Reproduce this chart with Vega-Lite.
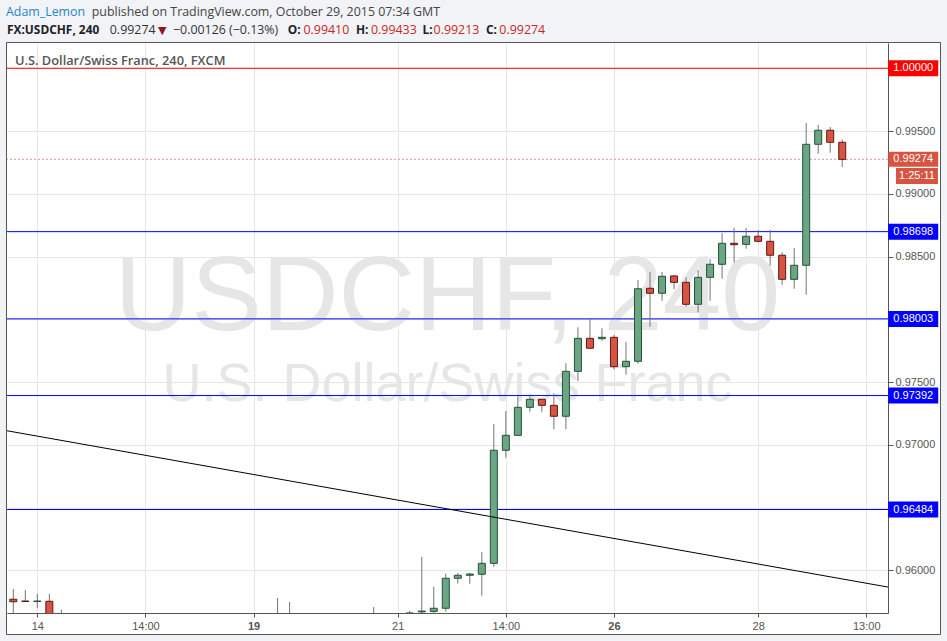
{
  "$schema": "https://vega.github.io/schema/vega-lite/v6.json",
  "width": 881,
  "height": 570,
  "autosize": {"type": "none"},
  "padding": {"left": 7, "top": 43, "right": 59, "bottom": 28},
  "background": "#ffffff",
  "config": {
    "view": {"stroke": null},
    "axis": {"labelFont": "Liberation Sans", "labelFontSize": 11, "labelColor": "#555555", "tickColor": "#555555", "domainColor": "#555555", "gridColor": "#e6e6e6", "gridWidth": 1, "labelOverlap": false, "labelFlush": false}
  },
  "datasets": {
    "candles": [
      {"n": 0, "o": 0.95769, "h": 0.95851, "l": 0.95660, "c": 0.95749},
      {"n": 1, "o": 0.95755, "h": 0.95843, "l": 0.95749, "c": 0.95751},
      {"n": 2, "o": 0.95751, "h": 0.95811, "l": 0.95699, "c": 0.95755},
      {"n": 3, "o": 0.95753, "h": 0.95811, "l": 0.95550, "c": 0.95600},
      {"n": 4, "o": 0.95600, "h": 0.95686, "l": 0.95500, "c": 0.95550},
      {"n": 22, "o": 0.95450, "h": 0.95779, "l": 0.95400, "c": 0.95480},
      {"n": 23, "o": 0.95480, "h": 0.95747, "l": 0.95400, "c": 0.95460},
      {"n": 30, "o": 0.95500, "h": 0.95707, "l": 0.95450, "c": 0.95520},
      {"n": 33, "o": 0.95600, "h": 0.95678, "l": 0.95550, "c": 0.95660},
      {"n": 34, "o": 0.95668, "h": 0.96106, "l": 0.95620, "c": 0.95675},
      {"n": 35, "o": 0.95672, "h": 0.95869, "l": 0.95660, "c": 0.95697},
      {"n": 36, "o": 0.95697, "h": 0.95973, "l": 0.95670, "c": 0.95936},
      {"n": 37, "o": 0.95936, "h": 0.95978, "l": 0.95893, "c": 0.95960},
      {"n": 38, "o": 0.95960, "h": 0.95978, "l": 0.95893, "c": 0.95970},
      {"n": 39, "o": 0.95968, "h": 0.96145, "l": 0.95797, "c": 0.96055},
      {"n": 40, "o": 0.96055, "h": 0.97165, "l": 0.96028, "c": 0.96956},
      {"n": 41, "o": 0.96956, "h": 0.97269, "l": 0.96897, "c": 0.97075},
      {"n": 42, "o": 0.97075, "h": 0.97383, "l": 0.97070, "c": 0.97298},
      {"n": 43, "o": 0.97298, "h": 0.97383, "l": 0.97263, "c": 0.97362},
      {"n": 44, "o": 0.97362, "h": 0.97365, "l": 0.97259, "c": 0.97314},
      {"n": 45, "o": 0.97314, "h": 0.97410, "l": 0.97123, "c": 0.97227},
      {"n": 46, "o": 0.97227, "h": 0.97649, "l": 0.97123, "c": 0.97585},
      {"n": 47, "o": 0.97585, "h": 0.97936, "l": 0.97508, "c": 0.97848},
      {"n": 48, "o": 0.97848, "h": 0.98008, "l": 0.97765, "c": 0.97769},
      {"n": 49, "o": 0.97845, "h": 0.97928, "l": 0.97829, "c": 0.97856},
      {"n": 50, "o": 0.97856, "h": 0.97875, "l": 0.97601, "c": 0.97622},
      {"n": 51, "o": 0.97622, "h": 0.97819, "l": 0.97558, "c": 0.97665},
      {"n": 52, "o": 0.97665, "h": 0.98313, "l": 0.97646, "c": 0.98243},
      {"n": 53, "o": 0.98247, "h": 0.98376, "l": 0.97941, "c": 0.98207},
      {"n": 54, "o": 0.98207, "h": 0.98376, "l": 0.98148, "c": 0.98342},
      {"n": 55, "o": 0.98345, "h": 0.98355, "l": 0.98239, "c": 0.98294},
      {"n": 56, "o": 0.98294, "h": 0.98334, "l": 0.98100, "c": 0.98119},
      {"n": 57, "o": 0.98119, "h": 0.98392, "l": 0.98055, "c": 0.98334},
      {"n": 58, "o": 0.98334, "h": 0.98480, "l": 0.98148, "c": 0.98438},
      {"n": 59, "o": 0.98438, "h": 0.98687, "l": 0.98323, "c": 0.98605},
      {"n": 60, "o": 0.98605, "h": 0.98729, "l": 0.98451, "c": 0.98594},
      {"n": 61, "o": 0.98597, "h": 0.98727, "l": 0.98562, "c": 0.98661},
      {"n": 62, "o": 0.98661, "h": 0.98711, "l": 0.98613, "c": 0.98621},
      {"n": 63, "o": 0.98621, "h": 0.98711, "l": 0.98427, "c": 0.98510},
      {"n": 64, "o": 0.98510, "h": 0.98533, "l": 0.98275, "c": 0.98318},
      {"n": 65, "o": 0.98318, "h": 0.98568, "l": 0.98243, "c": 0.98430},
      {"n": 66, "o": 0.98430, "h": 0.99564, "l": 0.98196, "c": 0.99394},
      {"n": 67, "o": 0.99394, "h": 0.99548, "l": 0.99319, "c": 0.99506},
      {"n": 68, "o": 0.99506, "h": 0.99532, "l": 0.99327, "c": 0.99410},
      {"n": 69, "o": 0.99410, "h": 0.99433, "l": 0.99213, "c": 0.99274}
    ],
    "levels": [
      {"v": 1.0, "kind": "r"},
      {"v": 0.98698, "kind": "b"},
      {"v": 0.98003, "kind": "b"},
      {"v": 0.97392, "kind": "b"},
      {"v": 0.96484, "kind": "b"}
    ],
    "trend": [
      {"n": -0.55, "v": 0.97112},
      {"n": 72.81, "v": 0.95866}
    ]
  },
  "layer": [
    {
      "data": {"name": "candles"},
      "mark": {"type": "rule", "color": "#737375", "strokeWidth": 1, "clip": true, "opacity": 0},
      "encoding": {
        "x": {"field": "n", "type": "quantitative", "title": null,
          "scale": {"domain": [-0.524, 72.81], "zero": false, "nice": false, "padding": 0},
          "axis": {"title": null, "orient": "bottom", "values": [2, 11, 20, 32, 41, 50, 62, 71], "tickSize": 4, "labelPadding": 3, "domain": true,
            "labelExpr": "datum.value == 2 ? '14' : datum.value == 11 ? '14:00' : datum.value == 20 ? '19' : datum.value == 32 ? '21' : datum.value == 41 ? '14:00' : datum.value == 50 ? '26' : datum.value == 62 ? '28' : '13:00'",
            "labelFontWeight": {"condition": {"test": "datum.value == 20 || datum.value == 50", "value": "bold"}, "value": "normal"}}},
        "y": {"field": "l", "type": "quantitative", "title": null,
          "scale": {"domain": [0.956594, 1.002012], "zero": false, "nice": false, "padding": 0},
          "axis": {"title": null, "orient": "right", "values": [0.96, 0.965, 0.97, 0.975, 0.98, 0.985, 0.99, 0.995, 1.0], "tickSize": 5, "labelPadding": 2, "domain": true,
            "labelExpr": "abs(datum.value - 1) < 1e-7 || abs(datum.value - 0.98) < 1e-7 || abs(datum.value - 0.965) < 1e-7 ? '' : format(datum.value, '.5f')"}}
      }
    },
    {"data": {"values": [{}]}, "mark": {"type": "rect", "color": "#f1f3f6", "clip": false},
      "encoding": {"x": {"datum": -3}, "x2": {"datum": 80}, "y": {"datum": 1.002012}, "y2": {"datum": 1.0062}}},
    {"data": {"values": [{}]}, "mark": {"type": "rect", "color": "#f1f3f6", "clip": false},
      "encoding": {"x": {"datum": -3}, "x2": {"datum": -0.566}, "y": {"datum": 1.0062}, "y2": {"datum": 0.952}}},
    {"data": {"values": [{}]}, "mark": {"type": "rect", "color": "#f1f3f6", "clip": false},
      "encoding": {"x": {"datum": 77.22}, "x2": {"datum": 80}, "y": {"datum": 1.0062}, "y2": {"datum": 0.952}}},
    {"data": {"values": [{}]}, "mark": {"type": "rect", "color": "#f1f3f6", "clip": false},
      "encoding": {"x": {"datum": -3}, "x2": {"datum": 80}, "y": {"datum": 0.95488}, "y2": {"datum": 0.952}}},
    {"data": {"values": [{}]}, "mark": {"type": "rect", "filled": false, "color": "#555555", "strokeWidth": 1, "clip": false},
      "encoding": {"x": {"datum": -0.566}, "x2": {"datum": 77.18}, "y": {"datum": 1.002052}, "y2": {"datum": 0.95488}}},
    {"data": {"values": [{}]}, "mark": {"type": "text", "text": "USDCHF, 240", "font": "Liberation Sans", "fontSize": 106, "color": "#e6e6e6", "align": "center", "baseline": "alphabetic"},
      "encoding": {"x": {"datum": 36.14}, "y": {"datum": 0.979143}}},
    {"data": {"values": [{}]}, "mark": {"type": "text", "text": "U.S. Dollar/Swiss Franc", "font": "Liberation Sans", "fontSize": 54, "color": "#e6e6e6", "align": "center", "baseline": "alphabetic"},
      "encoding": {"x": {"datum": 36.14}, "y": {"datum": 0.973486}}},
    {"data": {"name": "levels"}, "mark": {"type": "rule", "strokeWidth": 1},
      "encoding": {"y": {"field": "v", "type": "quantitative", "title": null},
        "color": {"field": "kind", "type": "nominal", "scale": {"domain": ["r", "b"], "range": ["#ff0000", "#0000ff"]}, "legend": null}}},
    {"data": {"values": [{}]}, "mark": {"type": "rule", "color": "#e3998f", "strokeWidth": 1, "strokeDash": [2, 2]},
      "encoding": {"y": {"datum": 0.99274}}},
    {
      "data": {"name": "candles"},
      "mark": {"type": "rule", "color": "#737375", "strokeWidth": 1, "clip": true},
      "encoding": {
        "x": {"field": "n", "type": "quantitative", "title": null},
        "y": {"field": "l", "type": "quantitative", "title": null},
        "y2": {"field": "h"}
      }
    },
    {
      "data": {"name": "candles"},
      "mark": {"type": "bar", "width": 7, "strokeWidth": 1, "clip": true},
      "encoding": {
        "x": {"field": "n", "type": "quantitative", "title": null},
        "y": {"field": "o", "type": "quantitative", "title": null},
        "y2": {"field": "c"},
        "fill": {"condition": {"test": "datum.c >= datum.o", "value": "#6ba583"}, "value": "#d75442"},
        "stroke": {"condition": {"test": "datum.c >= datum.o", "value": "#225437"}, "value": "#5b1a13"}
      }
    },
    {"data": {"name": "trend"}, "mark": {"type": "line", "color": "#000000", "strokeWidth": 1, "clip": true},
      "encoding": {"x": {"field": "n", "type": "quantitative", "title": null}, "y": {"field": "v", "type": "quantitative", "title": null}}},
    {"data": {"name": "levels"}, "mark": {"type": "rect", "width": 50, "height": 16, "clip": false},
      "encoding": {"x": {"datum": 74.91}, "y": {"field": "v", "type": "quantitative", "title": null},
        "color": {"field": "kind", "type": "nominal", "legend": null}}},
    {"data": {"name": "levels"}, "mark": {"type": "text", "font": "Liberation Sans", "fontSize": 11, "color": "#ffffff", "align": "center", "baseline": "middle", "clip": false},
      "encoding": {"x": {"datum": 74.91}, "y": {"field": "v", "type": "quantitative", "title": null}, "text": {"field": "v", "format": ".5f"}}},
    {"data": {"values": [{}]}, "mark": {"type": "rect", "width": 50, "height": 15, "color": "#d75442", "clip": false},
      "encoding": {"x": {"datum": 74.91}, "y": {"datum": 0.99274}}},
    {"data": {"values": [{}]}, "mark": {"type": "text", "text": "0.99274", "font": "Liberation Sans", "fontSize": 11, "color": "#ffffff", "align": "center", "baseline": "middle", "clip": false},
      "encoding": {"x": {"datum": 74.91}, "y": {"datum": 0.99274}}},
    {"data": {"values": [{}]}, "mark": {"type": "rect", "width": 42, "height": 16, "color": "#d75442", "clip": false},
      "encoding": {"x": {"datum": 75.22}, "y": {"datum": 0.99141}}},
    {"data": {"values": [{}]}, "mark": {"type": "text", "text": "1:25:11", "font": "Liberation Sans", "fontSize": 11, "color": "#ffffff", "align": "center", "baseline": "middle", "clip": false},
      "encoding": {"x": {"datum": 75.22}, "y": {"datum": 0.99141}}},
    {"data": {"values": [{}]}, "mark": {"type": "text", "text": "U.S. Dollar/Swiss Franc, 240, FXCM", "font": "Open Sans", "fontSize": 12.8, "fontWeight": 600, "color": "#555555", "align": "left", "baseline": "alphabetic"},
      "encoding": {"x": {"datum": 0.1415}, "y": {"datum": 1.000259}}},
    {"data": {"values": [{}]}, "mark": {"type": "text", "text": "Adam_Lemon", "font": "Open Sans", "fontSize": 12.4, "color": "#1e88c8", "align": "left", "baseline": "alphabetic", "clip": false},
      "encoding": {"x": {"datum": -0.608}, "y": {"datum": 1.004163}}},
    {"data": {"values": [{}]}, "mark": {"type": "text", "text": "published on TradingView.com, October 29, 2015 07:34 GMT", "font": "Open Sans", "fontSize": 12.4, "color": "#444444", "align": "left", "baseline": "alphabetic", "clip": false},
      "encoding": {"x": {"datum": 6.534}, "y": {"datum": 1.004163}}},
    {"data": {"values": [{}]}, "mark": {"type": "text", "text": "FX:USDCHF, 240", "font": "Open Sans", "fontSize": 11.9, "fontWeight": "bold", "color": "#222222", "align": "left", "baseline": "alphabetic", "clip": false},
      "encoding": {"x": {"datum": -0.524}, "y": {"datum": 1.002729}}},
    {"data": {"values": [{}]}, "mark": {"type": "text", "text": "0.99274", "font": "Open Sans", "fontSize": 12.4, "color": "#333333", "align": "left", "baseline": "alphabetic", "clip": false},
      "encoding": {"x": {"datum": 8.032}, "y": {"datum": 1.002729}}},
    {"data": {"values": [{}]}, "mark": {"type": "text", "text": "▼", "font": "DejaVu Sans", "fontSize": 11, "color": "#8b1a1a", "align": "left", "baseline": "alphabetic", "clip": false},
      "encoding": {"x": {"datum": 12.044}, "y": {"datum": 1.002729}}},
    {"data": {"values": [{}]}, "mark": {"type": "text", "text": "−0.00126 (−0.13%)", "font": "Open Sans", "fontSize": 12.4, "color": "#333333", "align": "left", "baseline": "alphabetic", "clip": false},
      "encoding": {"x": {"datum": 13.293}, "y": {"datum": 1.002729}}},
    {"data": {"values": [{}]}, "mark": {"type": "text", "text": "O:", "font": "Open Sans", "fontSize": 11.9, "fontWeight": "bold", "color": "#222222", "align": "left", "baseline": "alphabetic", "clip": false},
      "encoding": {"x": {"datum": 22.849}, "y": {"datum": 1.002729}}},
    {"data": {"values": [{}]}, "mark": {"type": "text", "text": "0.99410", "font": "Open Sans", "fontSize": 12.4, "color": "#c62828", "align": "left", "baseline": "alphabetic", "clip": false},
      "encoding": {"x": {"datum": 24.155}, "y": {"datum": 1.002729}}},
    {"data": {"values": [{}]}, "mark": {"type": "text", "text": "H:", "font": "Open Sans", "fontSize": 11.9, "fontWeight": "bold", "color": "#222222", "align": "left", "baseline": "alphabetic", "clip": false},
      "encoding": {"x": {"datum": 28.525}, "y": {"datum": 1.002729}}},
    {"data": {"values": [{}]}, "mark": {"type": "text", "text": "0.99433", "font": "Open Sans", "fontSize": 12.4, "color": "#c62828", "align": "left", "baseline": "alphabetic", "clip": false},
      "encoding": {"x": {"datum": 29.774}, "y": {"datum": 1.002729}}},
    {"data": {"values": [{}]}, "mark": {"type": "text", "text": "L:", "font": "Open Sans", "fontSize": 11.9, "fontWeight": "bold", "color": "#222222", "align": "left", "baseline": "alphabetic", "clip": false},
      "encoding": {"x": {"datum": 34.06}, "y": {"datum": 1.002729}}},
    {"data": {"values": [{}]}, "mark": {"type": "text", "text": "0.99213", "font": "Open Sans", "fontSize": 12.4, "color": "#c62828", "align": "left", "baseline": "alphabetic", "clip": false},
      "encoding": {"x": {"datum": 34.985}, "y": {"datum": 1.002729}}},
    {"data": {"values": [{}]}, "mark": {"type": "text", "text": "C:", "font": "Open Sans", "fontSize": 11.9, "fontWeight": "bold", "color": "#222222", "align": "left", "baseline": "alphabetic", "clip": false},
      "encoding": {"x": {"datum": 39.346}, "y": {"datum": 1.002729}}},
    {"data": {"values": [{}]}, "mark": {"type": "text", "text": "0.99274", "font": "Open Sans", "fontSize": 12.4, "color": "#c62828", "align": "left", "baseline": "alphabetic", "clip": false},
      "encoding": {"x": {"datum": 40.461}, "y": {"datum": 1.002729}}}
  ]
}
